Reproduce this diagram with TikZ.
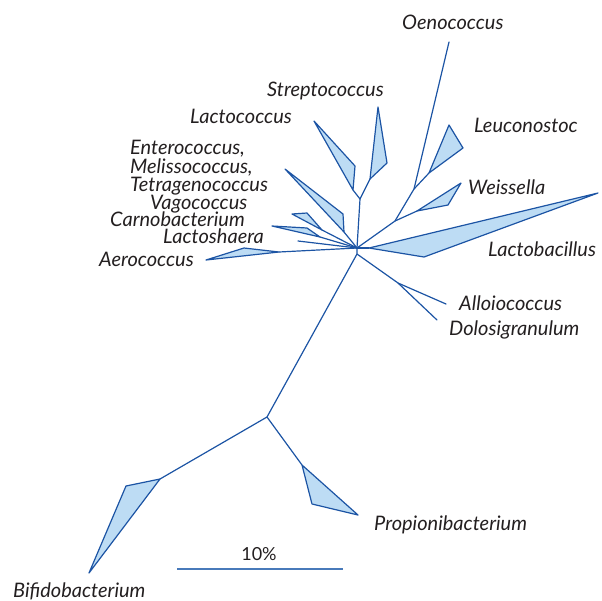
\documentclass[tikz,border=0pt]{standalone}
\usepackage{fontspec}
\setmainfont{Lato}
\definecolor{treeblue}{RGB}{28,84,164}
\definecolor{cladefill}{RGB}{189,220,244}
\definecolor{barblue}{RGB}{72,122,186}
\definecolor{labelgray}{RGB}{35,31,32}
\begin{document}
\begin{tikzpicture}[x=1pt,y=-1pt,
  branch/.style={draw=treeblue, line width=1.2pt, line join=round, line cap=round},
  clade/.style={branch, fill=cladefill},
  taxon/.style={font=\fontsize{20}{20}\selectfont\itshape, text=labelgray, inner sep=0pt, anchor=base west},
  barlabel/.style={font=\fontsize{18}{18}\selectfont, text=labelgray, inner sep=0pt, anchor=base}]
\useasboundingbox (0,0) rectangle (602,600);

% internal nodes of the tree
\coordinate (hub) at (357,248);
\coordinate (lowhub) at (357,254);
\coordinate (trunk) at (267,417);
\coordinate (bifj) at (160,479);
\coordinate (propj) at (302,465);
\coordinate (lacj) at (360,199);
\coordinate (lacc) at (353,190);
\coordinate (strc) at (370,179);
\coordinate (oenj) at (395,221);
\coordinate (oenk) at (414,189);
\coordinate (oentip) at (449,42);
\coordinate (leuc) at (429,173);
\coordinate (weis) at (417,211);
\coordinate (alloj) at (398,283);
\coordinate (allotip) at (446,304);
\coordinate (dolotip) at (437,320);
\coordinate (entc) at (344,232);
\coordinate (vagc) at (322,230);
\coordinate (carnc) at (320,237);
\coordinate (lshtip) at (298,241);
\coordinate (aerc) at (279,252);
\coordinate (lbc) at (369,248);

% branches
\draw[branch] (hub) -- (lowhub) -- (trunk) -- (bifj);
\draw[branch] (trunk) -- (propj);
\draw[branch] (lowhub) -- (alloj) -- (allotip);
\draw[branch] (alloj) -- (dolotip);
\draw[branch] (hub) -- (lacj) -- (lacc);
\draw[branch] (lacj) -- (strc);
\draw[branch] (hub) -- (oenj) -- (oenk) -- (oentip);
\draw[branch] (oenj) -- (weis);
\draw[branch] (oenk) -- (leuc);
\draw[branch] (hub) -- (entc);
\draw[branch] (hub) -- (vagc);
\draw[branch] (hub) -- (carnc);
\draw[branch] (hub) -- (lshtip);
\draw[branch] (hub) -- (aerc);
\draw[branch] (hub) -- (lbc);

% collapsed clades
\draw[clade] (bifj) -- (126,486) -- (89,573) -- cycle;
\draw[clade] (propj) -- (312,504) -- (358,515) -- cycle;
\draw[clade] (lacc) -- (314,121) -- (355,166) -- cycle;
\draw[clade] (strc) -- (378,107) -- (387,163) -- cycle;
\draw[clade] (leuc) -- (449,125) -- (463,148) -- cycle;
\draw[clade] (weis) -- (461,183) -- (448,205) -- cycle;
\draw[clade] (lbc) -- (598,193) -- (424,257) -- cycle;
\draw[clade] (entc) -- (285,169) -- (343,214) -- cycle;
\draw[clade] (vagc) -- (292,214) -- (307,213) -- cycle;
\draw[clade] (carnc) -- (272,226) -- (307,228) -- cycle;
\draw[clade] (aerc) -- (206,260) -- (244,248) -- cycle;

% scale bar
\coordinate (sbl) at (177,569);
\coordinate (sbr) at (343,569);
\draw[draw=barblue, line width=1.6pt] (sbl) -- (sbr);
\node[barlabel] (sblab) at (259,560) {10\%};

% taxon labels
\node[taxon] (oen) at (402,29) {Oenococcus};
\node[taxon] (str) at (267,96) {Streptococcus};
\node[taxon] (lac) at (190,123) {Lactococcus};
\node[taxon] (ent) at (130,154) {Enterococcus,};
\node[taxon] (mel) at (130,173) {Melissococcus,};
\node[taxon] (tet) at (130,191) {Tetragenococcus};
\node[taxon] (vag) at (150,209) {Vagococcus};
\node[taxon] (car) at (110,226) {Carnobacterium};
\node[taxon] (lsh) at (163,243) {Lactoshaera};
\node[taxon] (aer) at (99,266) {Aerococcus};
\node[taxon] (leu) at (474,132) {Leuconostoc};
\node[taxon] (wei) at (468,194) {Weissella};
\node[taxon] (lba) at (488,256) {Lactobacillus};
\node[taxon] (all) at (459,310) {Alloiococcus};
\node[taxon] (dol) at (449,335) {Dolosigranulum};
\node[taxon] (pro) at (374,530) {Propionibacterium};
\node[taxon] (bif) at (13,597) {Bifidobacterium};
\end{tikzpicture}
\end{document}
